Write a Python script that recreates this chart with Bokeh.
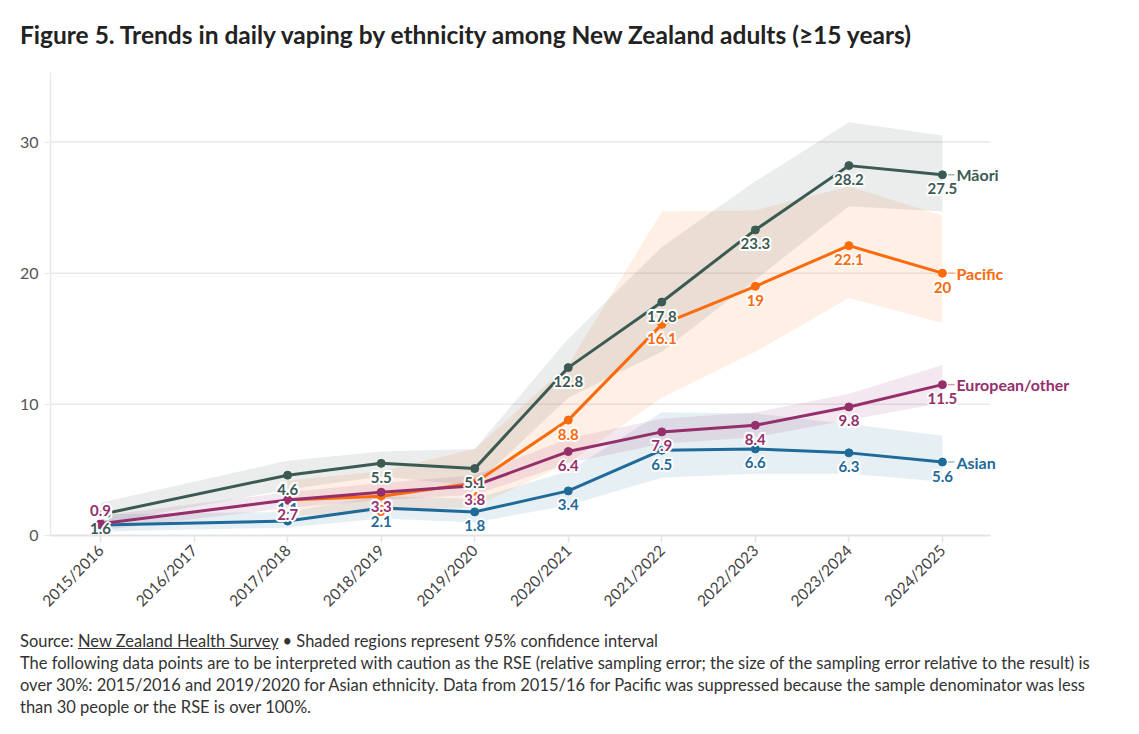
import math
from bokeh.plotting import figure
from bokeh.models import ColumnDataSource, Range1d, FixedTicker, Div, Label
from bokeh.layouts import column
from bokeh.embed import file_html
from bokeh.resources import INLINE
from bokeh.core.properties import value

# Survey years shown on the x axis (no survey results for 2016/2017)
periods = ["2015/2016", "2016/2017", "2017/2018", "2018/2019", "2019/2020",
           "2020/2021", "2021/2022", "2022/2023", "2023/2024", "2024/2025"]
survey_periods = ["2015/2016", "2017/2018", "2018/2019", "2019/2020",
                  "2020/2021", "2021/2022", "2022/2023", "2023/2024", "2024/2025"]

# Daily vaping prevalence (%) and 95% confidence limits
maori = [1.6, 4.6, 5.5, 5.1, 12.8, 17.8, 23.3, 28.2, 27.5]
maori_lo = [0.9, 3.5, 4.5, 3.8, 10.5, 14.0, 19.5, 25.1, 24.7]
maori_hi = [2.5, 5.7, 6.4, 6.6, 15.0, 22.0, 27.0, 31.5, 30.5]

pacific = [None, 2.7, 3.0, 4.0, 8.8, 16.1, 19.0, 22.1, 20.0]
pacific_lo = [None, 1.5, 1.8, 2.2, 5.5, 10.5, 14.0, 18.1, 16.2]
pacific_hi = [None, 4.2, 4.9, 6.6, 13.0, 24.7, 24.8, 26.6, 24.4]

european = [0.9, 2.7, 3.3, 3.8, 6.4, 7.9, 8.4, 9.8, 11.5]
european_lo = [0.4, 2.1, 2.7, 3.1, 5.5, 7.0, 7.5, 8.8, 10.1]
european_hi = [1.5, 3.3, 4.0, 4.6, 7.4, 8.9, 9.4, 10.8, 13.0]

asian = [0.8, 1.1, 2.1, 1.8, 3.4, 6.5, 6.6, 6.3, 5.6]
asian_lo = [0.3, 0.6, 1.3, 1.0, 2.3, 4.4, 4.7, 4.7, 4.1]
asian_hi = [1.6, 1.8, 3.0, 2.8, 4.9, 9.4, 9.3, 8.5, 7.6]

y_ticks = [0, 10, 20, 30]

series = [
    ("Asian", "#1f6a98", asian, asian_lo, asian_hi),
    ("Pacific", "#fb6a0b", pacific, pacific_lo, pacific_hi),
    ("European/other", "#952f6b", european, european_lo, european_hi),
    ("Māori", "#3c5a54", maori, maori_lo, maori_hi),
]
# value labels that sit above their marker instead of below
labels_above = {("Asian", 0), ("Asian", 1), ("European/other", 0)}

FONT = "Lato"

# the axis covers x in [X0, X1]; the frame runs further right to leave room for series names
X0, X1 = -0.535, 9.515
p = figure(width=1139, height=560, x_range=Range1d(X0, 11.0), y_range=Range1d(0, 35.3),
           output_backend="svg", toolbar_location=None,
           min_border_left=50, min_border_right=10, min_border_top=12, min_border_bottom=85)
p.outline_line_color = None
p.background_fill_color = "white"
p.border_fill_color = "white"
p.xgrid.visible = False
p.ygrid.visible = False

# horizontal gridlines limited to the axis extent
p.segment(x0=X0, x1=X1, y0=y_ticks[1:], y1=y_ticks[1:], line_color="#e9e9e9", line_width=1.5)

xa = p.xaxis[0]
xa.bounds = (X0, X1)
xa.ticker = FixedTicker(ticks=list(range(len(periods))))
xa.major_label_overrides = {i: lab for i, lab in enumerate(periods)}
xa.major_label_orientation = math.pi / 4
xa.axis_line_color = "#e3e3e3"
xa.axis_line_width = 2
xa.major_tick_line_color = "#e3e3e3"
xa.major_tick_line_width = 1.5
xa.major_tick_out = 7
xa.major_tick_in = 0
xa.minor_tick_line_color = None
xa.major_label_text_font = FONT
xa.major_label_text_font_size = "15.5px"
xa.major_label_text_color = "#444444"
xa.major_label_standoff = 5

ya = p.yaxis[0]
ya.ticker = FixedTicker(ticks=y_ticks)
ya.axis_line_color = "#e9e9e9"
ya.axis_line_width = 1.5
ya.major_tick_line_color = "#e9e9e9"
ya.major_tick_out = 6
ya.major_tick_in = 0
ya.minor_tick_line_color = None
ya.major_label_text_font = FONT
ya.major_label_text_font_size = "16px"
ya.major_label_text_color = "#555555"
ya.major_label_standoff = 6


def xpos(period):
    return periods.index(period)


def pts(vals):
    xs, ys = [], []
    for per, v in zip(survey_periods, vals):
        if v is not None:
            xs.append(xpos(per))
            ys.append(v)
    return xs, ys


# confidence bands
for name, color, vals, lo, hi in series:
    xs, ylo = pts(lo)
    _, yhi = pts(hi)
    p.varea(x=xs, y1=ylo, y2=yhi, fill_color=color, fill_alpha=0.11)

# lines and markers
for name, color, vals, lo, hi in series:
    xs, ys = pts(vals)
    p.line(xs, ys, line_color=color, line_width=3)
    p.scatter(xs, ys, size=8, fill_color=color, line_color=color)


def halo_text(xs, ys, texts, color, x_off, y_off, align, size, weight="bold"):
    src = ColumnDataSource(dict(x=xs, y=ys, t=texts))
    common = dict(source=src, text="t", text_font=value(FONT), text_font_size=size,
                  text_font_style=weight, text_align=align, text_baseline="middle")
    for dx, dy in [(-2, 0), (2, 0), (0, -2), (0, 2), (-1.5, -1.5), (1.5, -1.5), (-1.5, 1.5), (1.5, 1.5)]:
        p.text("x", "y", x_offset=x_off + dx, y_offset=y_off + dy, text_color="white", **common)
    p.text("x", "y", x_offset=x_off, y_offset=y_off, text_color=color, **common)


# value labels
for name, color, vals, lo, hi in series:
    xs_b, ys_b, t_b, xs_a, ys_a, t_a = [], [], [], [], [], []
    for i, (per, v) in enumerate(zip(survey_periods, vals)):
        if v is None:
            continue
        label = f"{v:g}"
        if (name, i) in labels_above:
            xs_a.append(xpos(per)); ys_a.append(v); t_a.append(label)
        else:
            xs_b.append(xpos(per)); ys_b.append(v); t_b.append(label)
    halo_text(xs_b, ys_b, t_b, color, 0, 14, "center", "15px")
    if xs_a:
        halo_text(xs_a, ys_a, t_a, color, 0, -13, "center", "15px")

# series names at the line ends
for name, color, vals, lo, hi in series:
    xs, ys = pts(vals)
    p.segment(x0=[xs[-1] + 0.06], y0=[ys[-1]], x1=[xs[-1] + 0.13], y1=[ys[-1]],
              line_color=color, line_alpha=0.45, line_width=1.5)
    p.add_layout(Label(x=xs[-1], y=ys[-1], x_offset=14, text=name, text_color=color,
                       text_font=FONT, text_font_size="16px", text_font_style="bold",
                       text_align="left", text_baseline="middle"))

title = Div(text=(
    '<div style="font-family: Lato; font-weight: bold; font-size: 24.5px; color: #222222; '
    'padding: 17px 0 0 20px; white-space: nowrap;">'
    'Figure 5. Trends in daily vaping by ethnicity among New Zealand adults (≥15 years)</div>'),
    width=1139, height=60, margin=(0, 0, 0, 0))

footer = Div(text=(
    '<div style="font-family: Lato; font-size: 16.5px; line-height: 22px; color: #333333; '
    'padding: 10px 0 0 20px; white-space: nowrap;">'
    'Source: <u>New Zealand Health Survey</u> • Shaded regions represent 95% confidence interval<br>'
    'The following data points are to be interpreted with caution as the RSE (relative sampling error; '
    'the size of the sampling error relative to the result) is<br>'
    'over 30%: 2015/2016 and 2019/2020 for Asian ethnicity. Data from 2015/16 for Pacific was suppressed '
    'because the sample denominator was less<br>'
    'than 30 people or the RSE is over 100%.</div>'),
    width=1139, height=114, margin=(0, 0, 0, 0))

layout = column(title, p, footer, spacing=0, margin=(0, 0, 0, 0))

open("out.html", "w").write(file_html(layout, INLINE))
